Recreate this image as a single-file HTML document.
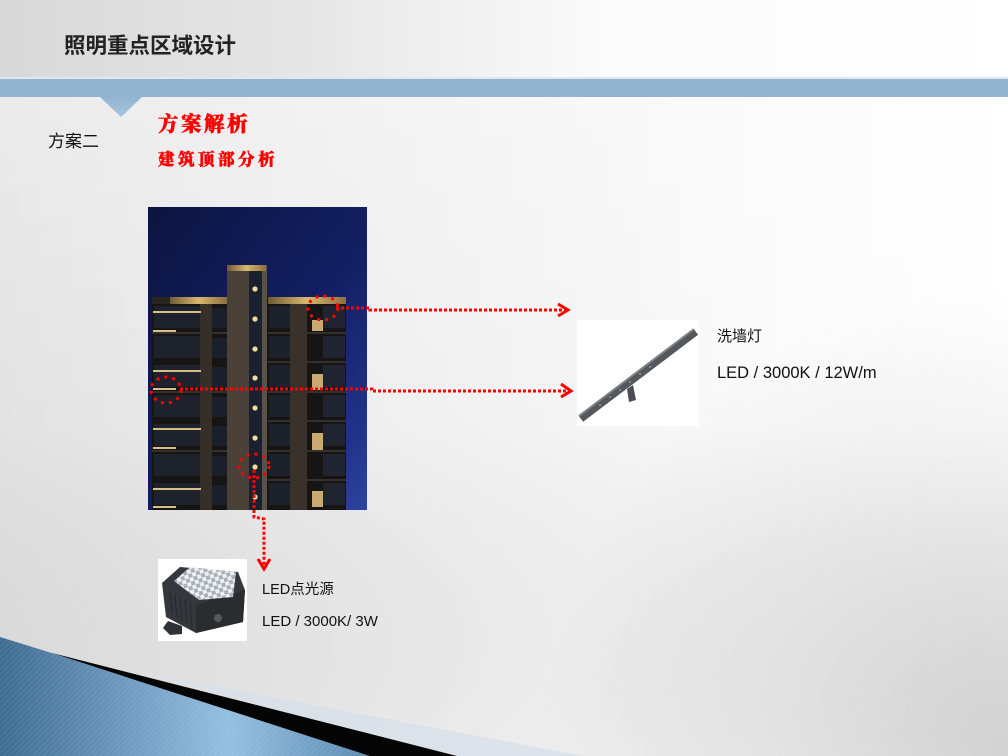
<!DOCTYPE html>
<html>
<head>
<meta charset="utf-8">
<style>
html,body{margin:0;padding:0;width:1008px;height:756px;overflow:hidden;background:#eee;}
svg{display:block;}
.cjk{font-family:"Liberation Sans","Noto Sans CJK SC",sans-serif;}
.red{font-family:"Liberation Serif","Noto Serif CJK SC",serif;font-weight:900;fill:#ff0000;stroke:#ff0000;stroke-width:0.5;}
</style>
</head>
<body>
<svg width="1008" height="756" viewBox="0 0 1008 756" xmlns="http://www.w3.org/2000/svg">
<defs>
  <linearGradient id="hdr" x1="0" y1="0" x2="1" y2="0">
    <stop offset="0" stop-color="#d8d8d8"/>
    <stop offset="0.3" stop-color="#e6e6e6"/>
    <stop offset="0.6" stop-color="#fbfbfb"/>
    <stop offset="1" stop-color="#ffffff"/>
  </linearGradient>
  <linearGradient id="body" x1="0" y1="0" x2="1" y2="0">
    <stop offset="0" stop-color="#e0e0e0"/>
    <stop offset="0.4" stop-color="#eeeeee"/>
    <stop offset="0.75" stop-color="#f9f9f9"/>
    <stop offset="1" stop-color="#ffffff"/>
  </linearGradient>
  <linearGradient id="bodyv" x1="0" y1="0" x2="0" y2="1">
    <stop offset="0" stop-color="#ffffff" stop-opacity="0.35"/>
    <stop offset="0.5" stop-color="#ffffff" stop-opacity="0.1"/>
    <stop offset="1" stop-color="#000000" stop-opacity="0.02"/>
  </linearGradient>
  <radialGradient id="br" gradientUnits="userSpaceOnUse" cx="1008" cy="756" r="470">
    <stop offset="0" stop-color="#000000" stop-opacity="0.16"/>
    <stop offset="0.5" stop-color="#000000" stop-opacity="0.07"/>
    <stop offset="1" stop-color="#000000" stop-opacity="0"/>
  </radialGradient>
  <linearGradient id="blue" x1="0" y1="0" x2="1" y2="0">
    <stop offset="0" stop-color="#3d6a90"/>
    <stop offset="0.4" stop-color="#76a2c7"/>
    <stop offset="0.62" stop-color="#93bfe0"/>
    <stop offset="1" stop-color="#5b8ab2"/>
  </linearGradient>
  <pattern id="stripes" width="4" height="4" patternUnits="userSpaceOnUse" patternTransform="rotate(45)">
    <rect width="2" height="4" fill="#ffffff" fill-opacity="0.06"/>
  </pattern>
  <linearGradient id="sky" x1="0" y1="0" x2="1" y2="1">
    <stop offset="0" stop-color="#0c1440"/>
    <stop offset="0.55" stop-color="#131f62"/>
    <stop offset="0.85" stop-color="#20338a"/>
    <stop offset="1" stop-color="#2d45a0"/>
  </linearGradient>
  <linearGradient id="notch" x1="0" y1="0" x2="0" y2="1">
    <stop offset="0" stop-color="#93b4d1"/>
    <stop offset="1" stop-color="#a9c2da"/>
  </linearGradient>
  <linearGradient id="lit" x1="0" y1="0" x2="1" y2="0">
    <stop offset="0" stop-color="#6e5a36"/>
    <stop offset="0.5" stop-color="#d8b86e"/>
    <stop offset="1" stop-color="#8a7040"/>
  </linearGradient>
  <pattern id="checker" width="8" height="8" patternUnits="userSpaceOnUse" patternTransform="rotate(-20)">
    <rect width="8" height="8" fill="#eef1f4"/>
    <rect width="4" height="4" fill="#a9b0b8"/>
    <rect x="4" y="4" width="4" height="4" fill="#a9b0b8"/>
  </pattern>
</defs>

<!-- backgrounds -->
<rect x="0" y="0" width="1008" height="78" fill="url(#hdr)"/>
<rect x="0" y="97" width="1008" height="659" fill="url(#body)"/>
<rect x="0" y="97" width="1008" height="659" fill="url(#bodyv)"/>
<rect x="0" y="97" width="1008" height="659" fill="url(#br)"/>
<rect x="0" y="77" width="1008" height="2" fill="#dfe7ef"/>
<rect x="0" y="79" width="1008" height="18" fill="#93b4d1"/>
<polygon points="100,97 142,97 121,117" fill="url(#notch)"/>

<!-- bottom-left decoration -->
<polygon points="150,674 583,756 440,756" fill="#d8e0e9" opacity="0.8"/>
<polygon points="52,653 457,756 368,756" fill="#050505"/>
<polygon points="0,637 55,654 370,756 0,756" fill="url(#blue)"/>
<polygon points="0,637 55,654 370,756 0,756" fill="url(#stripes)"/>

<!-- title texts -->
<text x="64" y="53" class="cjk" font-size="21.5" font-weight="bold" fill="#222">照明重点区域设计</text>
<text x="48" y="147" class="cjk" font-size="17" fill="#111">方案二</text>
<text x="158" y="131" class="red" font-size="20.5" letter-spacing="2.5">方案解析</text>
<text x="158" y="165" class="red" font-size="16.5" letter-spacing="3.5">建筑顶部分析</text>

<!-- building photo -->
<g>
  <rect x="148" y="207" width="219" height="303" fill="url(#sky)"/>
  <rect x="152" y="297" width="194" height="213" fill="#171513"/>
  <g fill="#1d222c">
    <rect x="154" y="306" width="46" height="22"/>
    <rect x="154" y="336" width="46" height="22"/>
    <rect x="154" y="365" width="46" height="22"/>
    <rect x="154" y="395" width="46" height="22"/>
    <rect x="154" y="424" width="46" height="22"/>
    <rect x="154" y="454" width="46" height="22"/>
    <rect x="154" y="483" width="46" height="22"/>
  </g>
  <rect x="200" y="297" width="12" height="213" fill="#362f28"/>
  <g fill="#1b1f2a">
    <rect x="212" y="308" width="15" height="20"/>
    <rect x="212" y="338" width="15" height="20"/>
    <rect x="212" y="367" width="15" height="20"/>
    <rect x="212" y="397" width="15" height="20"/>
    <rect x="212" y="426" width="15" height="20"/>
    <rect x="212" y="456" width="15" height="20"/>
    <rect x="212" y="485" width="15" height="20"/>
  </g>
  <g fill="#d8c08a">
    <rect x="153" y="311" width="48" height="2"/>
    <rect x="153" y="330" width="23" height="2"/>
    <rect x="153" y="370" width="48" height="2"/>
    <rect x="153" y="388" width="23" height="2"/>
    <rect x="153" y="428" width="48" height="2"/>
    <rect x="153" y="447" width="23" height="2"/>
    <rect x="153" y="488" width="48" height="2"/>
    <rect x="153" y="506" width="23" height="2"/>
  </g>
  <rect x="227" y="265" width="40" height="245" fill="#4a4238"/>
  <rect x="249" y="271" width="13" height="239" fill="#1a202d"/>
  <rect x="262" y="265" width="5" height="245" fill="#5a5246"/>
  <rect x="227" y="265" width="39" height="6" fill="url(#lit)"/>
  <g fill="#f3dc9c">
    <circle cx="255" cy="289" r="2.6"/>
    <circle cx="255" cy="319" r="2.6"/>
    <circle cx="255" cy="349" r="2.6"/>
    <circle cx="255" cy="378" r="2.6"/>
    <circle cx="255" cy="408" r="2.6"/>
    <circle cx="255" cy="438" r="2.6"/>
    <circle cx="255" cy="467" r="2.6"/>
    <circle cx="255" cy="497" r="2.6"/>
  </g>
  <g fill="#1c212c">
    <rect x="269" y="306" width="21" height="22"/>
    <rect x="269" y="336" width="21" height="22"/>
    <rect x="269" y="365" width="21" height="22"/>
    <rect x="269" y="395" width="21" height="22"/>
    <rect x="269" y="424" width="21" height="22"/>
    <rect x="269" y="454" width="21" height="22"/>
    <rect x="269" y="483" width="21" height="22"/>
  </g>
  <rect x="290" y="297" width="17" height="213" fill="#3a322a"/>
  <g fill="#1f2430">
    <rect x="323" y="306" width="22" height="22"/>
    <rect x="323" y="336" width="22" height="22"/>
    <rect x="323" y="365" width="22" height="22"/>
    <rect x="323" y="395" width="22" height="22"/>
    <rect x="323" y="424" width="22" height="22"/>
    <rect x="323" y="454" width="22" height="22"/>
    <rect x="323" y="483" width="22" height="22"/>
  </g>
  <g fill="#c9ab72">
    <rect x="312" y="320" width="11" height="11"/>
    <rect x="312" y="374" width="11" height="16"/>
    <rect x="312" y="433" width="11" height="17"/>
    <rect x="312" y="491" width="11" height="16"/>
  </g>
  <g fill="#34302c">
    <rect x="152" y="332" width="75" height="2"/>
    <rect x="152" y="391" width="75" height="2"/>
    <rect x="152" y="450" width="75" height="2"/>
    <rect x="268" y="332" width="78" height="2"/>
    <rect x="268" y="361" width="78" height="2"/>
    <rect x="268" y="391" width="78" height="2"/>
    <rect x="268" y="420" width="78" height="2"/>
    <rect x="268" y="450" width="78" height="2"/>
    <rect x="268" y="479" width="78" height="2"/>
  </g>
  <rect x="170" y="297" width="57" height="7" fill="url(#lit)"/>
  <rect x="268" y="297" width="78" height="7" fill="url(#lit)"/>
  <rect x="152" y="297" width="18" height="7" fill="#2a2520"/>
</g>

<!-- wall washer product -->
<rect x="577" y="320" width="122" height="106" fill="#ffffff"/>
<line x1="581" y1="419" x2="696" y2="332" stroke="#54585c" stroke-width="7"/>
<line x1="579" y1="416" x2="694" y2="329" stroke="#7d8286" stroke-width="2"/>
<polygon points="627,389 633,385 636,400 629,402" fill="#4a4e52"/>
<g fill="#a8b0a8">
  <circle cx="600" cy="405" r="0.9"/><circle cx="610" cy="397" r="0.9"/><circle cx="620" cy="390" r="0.9"/>
  <circle cx="630" cy="382" r="0.9"/><circle cx="640" cy="374" r="0.9"/><circle cx="650" cy="367" r="0.9"/>
</g>
<text x="717" y="341" class="cjk" font-size="15" fill="#111">洗墙灯</text>
<text x="717" y="378" class="cjk" font-size="16.5" fill="#111">LED / 3000K / 12W/m</text>

<!-- point light product -->
<rect x="158" y="559" width="89" height="82" fill="#ffffff"/>
<polygon points="163,628 168,621 182,626 182,634 170,635" fill="#2e3135"/>
<polygon points="162,583 180,567 238,572 245,590 243,622 196,633 166,617" fill="#34373c"/>
<polygon points="196,605 245,590 243,622 196,633" fill="#2a2c30"/>
<polygon points="174,581 190,567 236,572 233,597 199,600" fill="url(#checker)"/>
<circle cx="218" cy="618" r="4" fill="#55585c"/>
<g stroke="#26282c" stroke-width="1">
  <line x1="170" y1="592" x2="172" y2="614"/><line x1="175" y1="595" x2="177" y2="618"/>
  <line x1="180" y1="598" x2="182" y2="621"/><line x1="185" y1="600" x2="187" y2="624"/>
  <line x1="190" y1="602" x2="192" y2="627"/>
</g>
<text x="262" y="594" class="cjk" font-size="14.5" fill="#111">LED点光源</text>
<text x="262" y="626" class="cjk" font-size="15" fill="#111">LED / 3000K/ 3W</text>

<!-- red dashed circles -->
<g fill="none" stroke="#ff0000" stroke-width="3" stroke-dasharray="3 5">
  <ellipse cx="323" cy="308" rx="15" ry="12"/>
  <ellipse cx="166" cy="390" rx="15" ry="13"/>
  <ellipse cx="254" cy="466" rx="15" ry="12"/>
</g>

<!-- dotted connectors -->
<g fill="none" stroke="#ff0000" stroke-width="3" stroke-dasharray="3 2">
  <polyline points="336,308 370,308 370,310 566,310"/>
  <polyline points="180,389 372,389 372,391 570,391"/>
  <polyline points="254,470 254,517 264,519 264,566"/>
</g>
<g fill="none" stroke="#ff0000" stroke-width="3" stroke-linejoin="miter">
  <polyline points="558,304 568,310 558,316"/>
  <polyline points="561,384 571,391 561,397"/>
  <polyline points="258,559 264,569 270,559"/>
</g>
</svg>
</body>
</html>
